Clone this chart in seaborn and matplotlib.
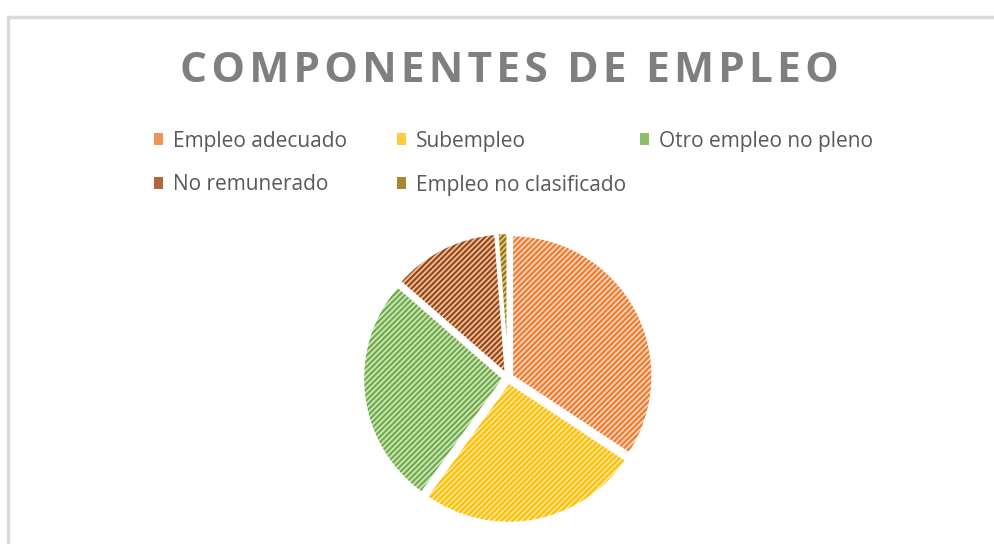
"""
Pie chart: componentes de empleo
"""
import matplotlib
matplotlib.use('Agg')
import matplotlib.pyplot as plt
import seaborn as sns
from matplotlib.patches import Patch
from matplotlib.lines import Line2D

# Data (in %)
categories = ['Empleo adecuado', 'Subempleo', 'Otro empleo no pleno',
              'No remunerado', 'Empleo no clasificado']
shares = [34.3, 25.6, 26.5, 12.4, 1.2]

# stripe colour (dark) and background colour (light) of each slice
stripe_colors = ['#ED7D31', '#FFC000', '#70AD47', '#9E480E', '#997300']
fill_colors = ['#FAD6BE', '#FFE6A0', '#D2E6C4', '#E6C6B0', '#DECA96']
legend_colors = ['#F0955A', '#FFCB3A', '#8CBF6A', '#B0653A', '#A8882E']

sns.set_style("white")
plt.rcParams['font.family'] = ['Open Sans', 'DejaVu Sans']
plt.rcParams['hatch.linewidth'] = 1.6

W, H = 995, 544
fig = plt.figure(figsize=(W / 100, H / 100), dpi=100)

# light grey frame of the chart area (top and left edges visible)
frame_kw = dict(transform=fig.transFigure, color='#D9D9D9', linewidth=2.5)
fig.add_artist(Line2D([8 / W, 1.0], [1 - 17 / H, 1 - 17 / H], **frame_kw))
fig.add_artist(Line2D([8 / W, 8 / W], [0.0, 1 - 17 / H], **frame_kw))

# pie axes: 1 data unit = ~141 px, centre at (508, 378) px
r_px = 141
w = 2.2 * r_px
ax = fig.add_axes([(508 - w / 2) / W, (H - 378 - w / 2) / H, w / W, w / H])
explode = [0.03] * len(shares)

# filled, hatched slices (hatch takes the edge colour, edges not drawn)
wedges, _ = ax.pie(shares, explode=explode, startangle=90, counterclock=False,
                   colors=fill_colors,
                   wedgeprops=dict(linewidth=0, hatch='//////'))
for wdg, sc in zip(wedges, stripe_colors):
    wdg.set_edgecolor(sc)
    wdg.set_linewidth(0)

# white outline on top for the gaps between slices
ax.pie(shares, explode=explode, startangle=90, counterclock=False,
       wedgeprops=dict(fill=False, edgecolor='white', linewidth=2))
ax.set_xlim(-1.1, 1.1)
ax.set_ylim(-1.1, 1.1)
ax.set_aspect('equal')
ax.axis('off')

# title, spread out with hair spaces
title = '\u200a'.join('COMPONENTES DE EMPLEO')
fig.text(509 / W, 1 - 71 / H, title, ha='center', va='center',
         fontsize=30.5, fontweight='bold', color='#7F7F7F')

# legend: fixed-width columns like the original, 3 per row
col_x = [154, 397, 640]
row_y = [141, 185]
for i, (lab, col) in enumerate(zip(categories, legend_colors)):
    x = col_x[i % 3]
    y = row_y[i // 3]
    fig.legend([Patch(facecolor=col, edgecolor='none')], [lab],
               loc='center left', bbox_to_anchor=(x / W, 1 - y / H),
               frameon=False, fontsize=15, labelcolor='#595959',
               handlelength=0.45, handleheight=0.45, handletextpad=0.45,
               borderpad=0, borderaxespad=0)

fig.savefig('out.png', dpi=100)
